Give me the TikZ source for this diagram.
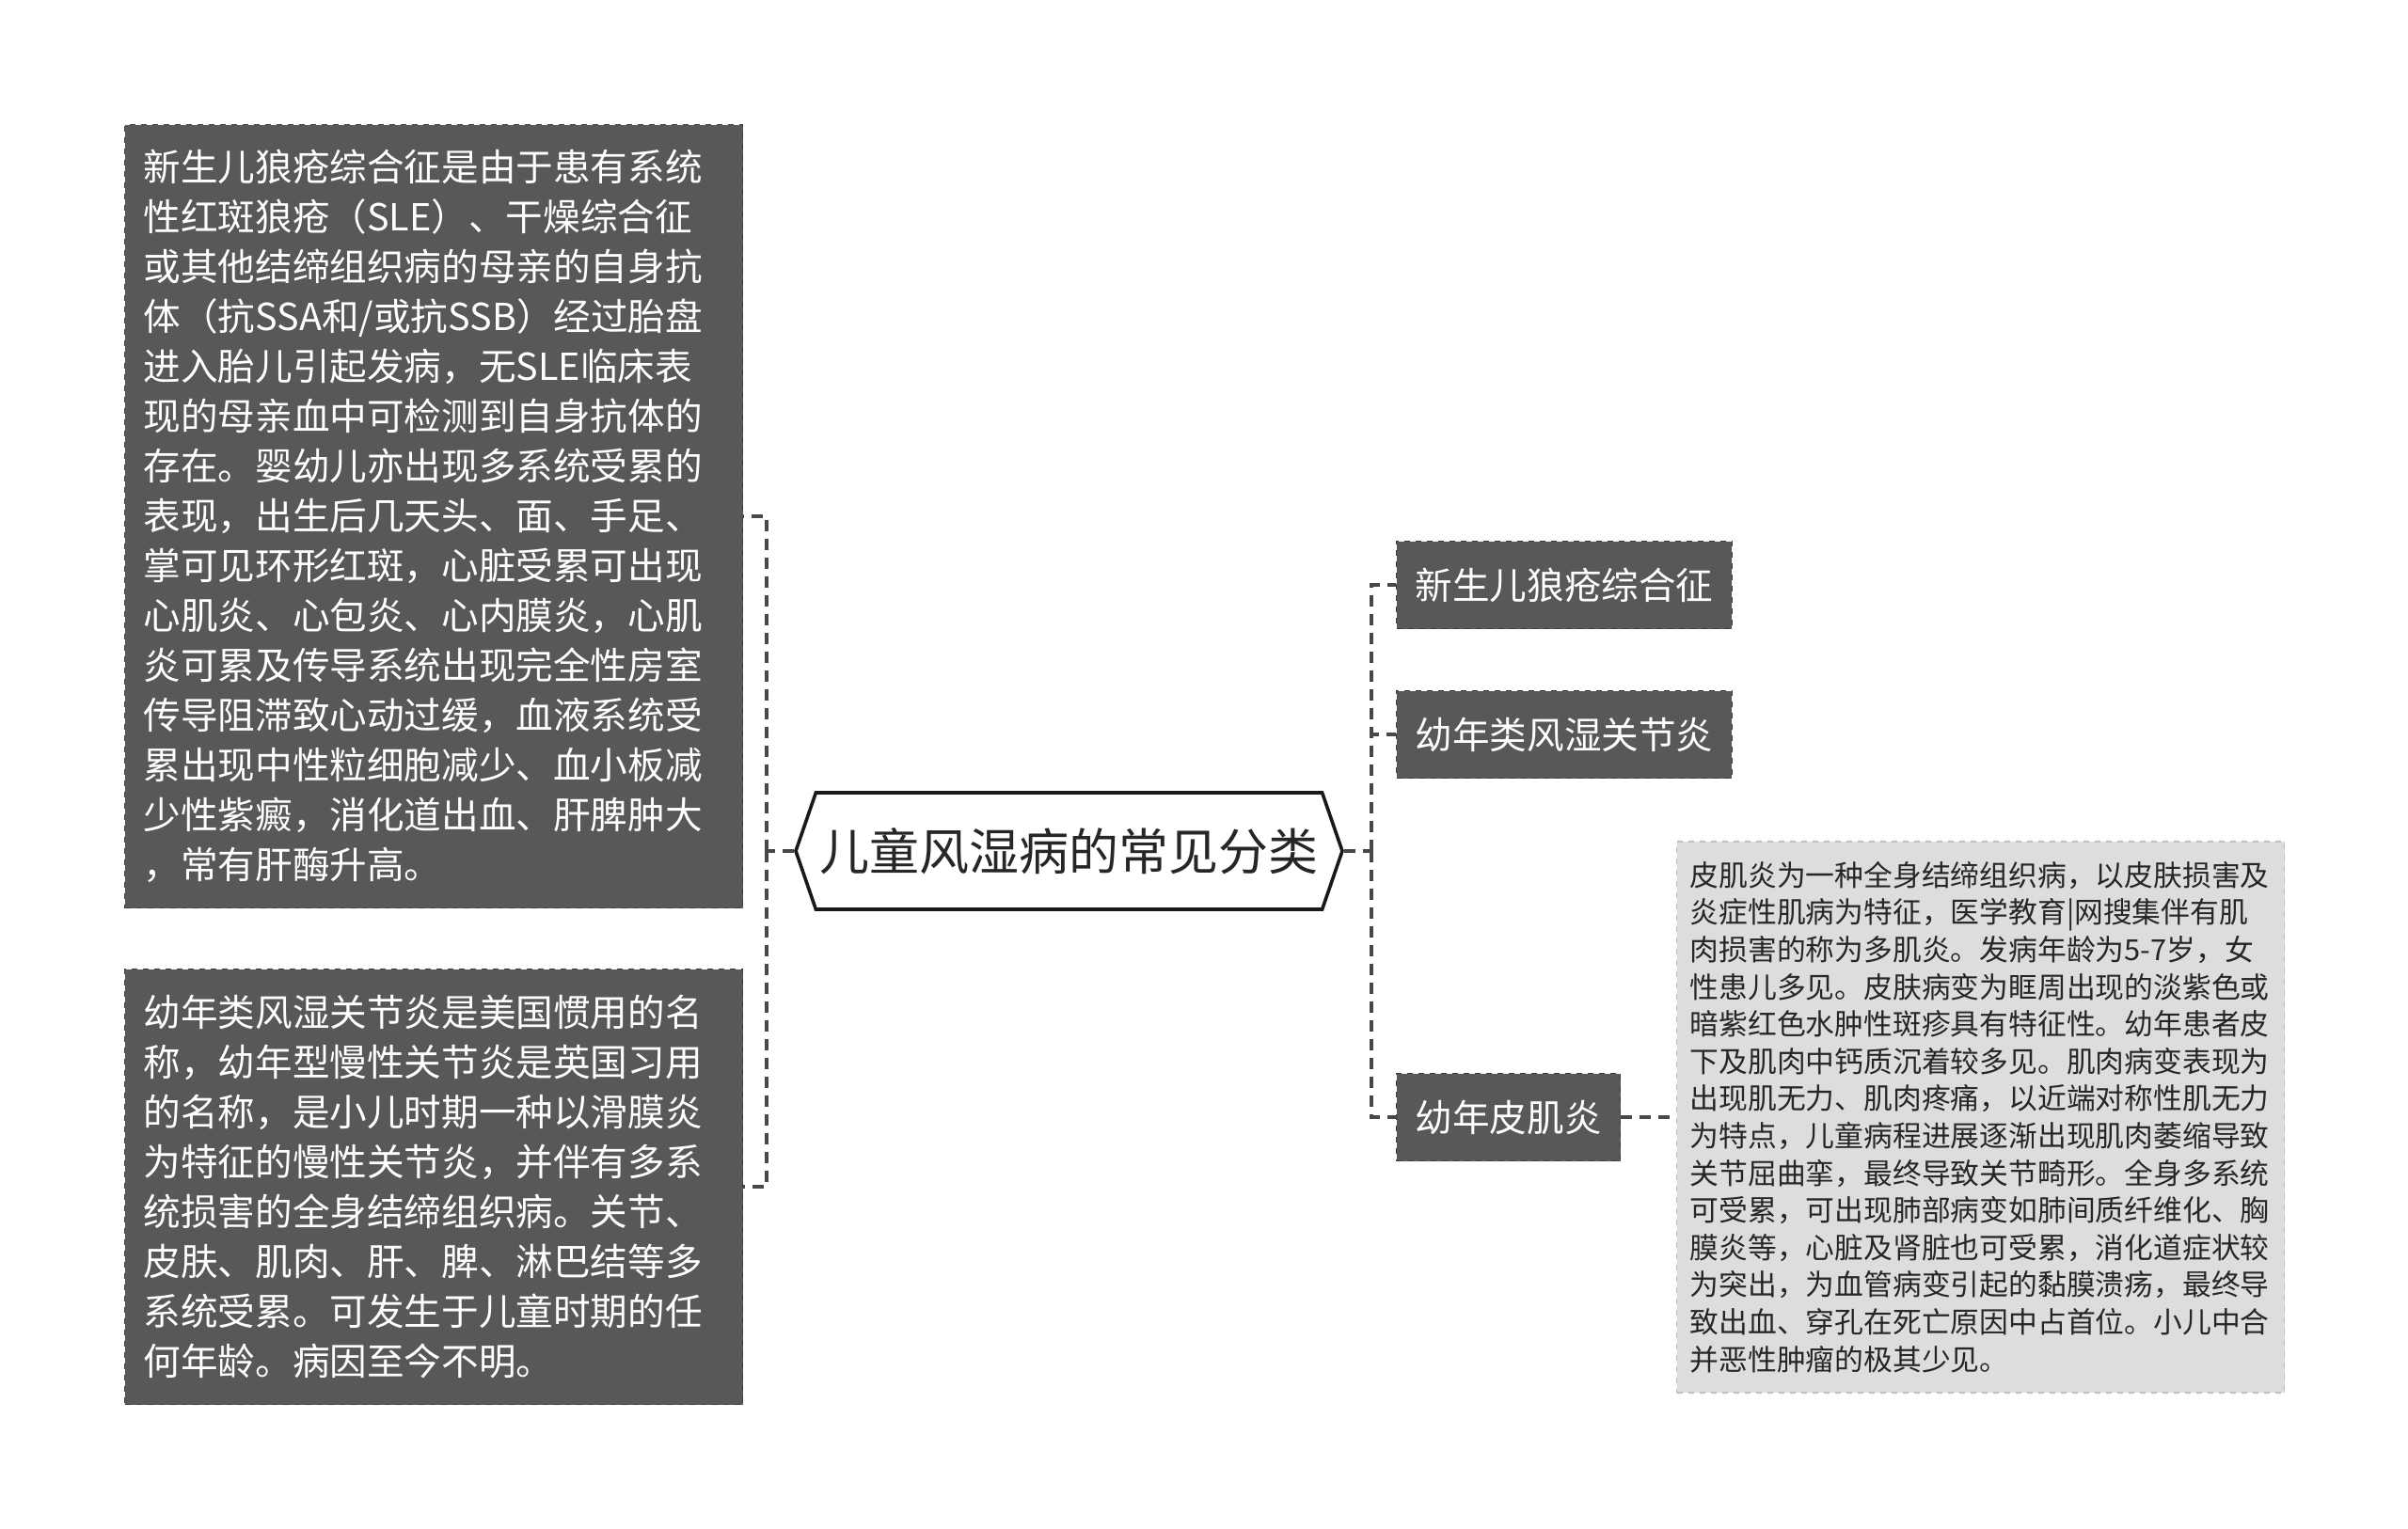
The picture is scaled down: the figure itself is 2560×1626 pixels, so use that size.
\documentclass[tikz,border=0pt]{standalone}
\usepackage{fontspec}
\newfontfamily\cjk{Noto Sans CJK SC}
\usetikzlibrary{positioning, shapes.symbols}
\definecolor{boxdark}{RGB}{88,88,88}
\definecolor{boxedge}{RGB}{60,60,60}
\definecolor{notefill}{RGB}{221,221,221}
\definecolor{noteedge}{RGB}{190,190,190}
\definecolor{linkgray}{RGB}{72,72,72}

\begin{document}
\begin{tikzpicture}[
    x=0.5pt, y=-0.5pt,
    every node/.style={font=\cjk},
    hub/.style={signal, signal to=east and west, signal pointer angle=142,
        draw=black!90, line width=1.8pt, fill=white, text=black!85,
        minimum width=290.5pt, minimum height=62pt, inner sep=0pt,
        font=\cjk\fontsize{26.5}{30}\selectfont},
    leaf/.style={rectangle, draw=boxedge, dashed, line width=0.6pt,
        fill=boxdark, text=white, align=left, text width=308.5pt,
        inner xsep=10pt, inner ysep=0pt,
        font=\cjk\fontsize{19.8}{26.5}\selectfont},
    cat/.style={rectangle, draw=boxedge, dashed, line width=0.6pt,
        fill=boxdark, text=white, inner xsep=10pt, inner ysep=0pt,
        minimum height=46.5pt, font=\cjk\fontsize{19.8}{24}\selectfont},
    note/.style={rectangle, draw=noteedge, dashed, line width=0.6pt,
        fill=notefill, text=black!85, align=left, text width=309pt,
        inner xsep=7pt, inner ysep=0pt, minimum height=293pt,
        font=\cjk\fontsize{15.4}{19.8}\selectfont},
    link/.style={draw=linkgray, line width=2pt, dash pattern=on 6pt off 4pt},
]
\useasboundingbox (0,0) rectangle (2560,1626);

% ====== CENTRE ======
\node[hub] (hub) at (1136.5,905) {儿童风湿病的常见分类};

% ====== LEFT: details ======
\node[leaf, anchor=north west, minimum height=416.5pt] (L-lupus) at (132,132)
    {新生儿狼疮综合征是由于患有系统\\
     性红斑狼疮（SLE）、干燥综合征\\
     或其他结缔组织病的母亲的自身抗\\
     体（抗SSA和/或抗SSB）经过胎盘\\
     进入胎儿引起发病，无SLE临床表\\
     现的母亲血中可检测到自身抗体的\\
     存在。婴幼儿亦出现多系统受累的\\
     表现，出生后几天头、面、手足、\\
     掌可见环形红斑，心脏受累可出现\\
     心肌炎、心包炎、心内膜炎，心肌\\
     炎可累及传导系统出现完全性房室\\
     传导阻滞致心动过缓，血液系统受\\
     累出现中性粒细胞减少、血小板减\\
     少性紫癜，消化道出血、肝脾肿大\\
     ，常有肝酶升高。};
\node[leaf, anchor=north west, minimum height=231.5pt] (L-jra) at (132,1030)
    {幼年类风湿关节炎是美国惯用的名\\
     称，幼年型慢性关节炎是英国习用\\
     的名称，是小儿时期一种以滑膜炎\\
     为特征的慢性关节炎，并伴有多系\\
     统损害的全身结缔组织病。关节、\\
     皮肤、肌肉、肝、脾、淋巴结等多\\
     系统受累。可发生于儿童时期的任\\
     何年龄。病因至今不明。};

% ====== RIGHT: categories ======
\node[cat, anchor=west] (R-lupus) at (1484,622)  {新生儿狼疮综合征};
\node[cat, anchor=west] (R-jra)   at (1484,781)  {幼年类风湿关节炎};
\node[cat, anchor=west] (R-derm)  at (1484,1188) {幼年皮肌炎};

\node[note, anchor=west] (R-note) at (1782,1188)
    {皮肌炎为一种全身结缔组织病，以皮肤损害及\\
     炎症性肌病为特征，医学教育|网搜集伴有肌\\
     肉损害的称为多肌炎。发病年龄为5-7岁，女\\
     性患儿多见。皮肤病变为眶周出现的淡紫色或\\
     暗紫红色水肿性斑疹具有特征性。幼年患者皮\\
     下及肌肉中钙质沉着较多见。肌肉病变表现为\\
     出现肌无力、肌肉疼痛，以近端对称性肌无力\\
     为特点，儿童病程进展逐渐出现肌肉萎缩导致\\
     关节屈曲挛，最终导致关节畸形。全身多系统\\
     可受累，可出现肺部病变如肺间质纤维化、胸\\
     膜炎等，心脏及肾脏也可受累，消化道症状较\\
     为突出，为血管病变引起的黏膜溃疡，最终导\\
     致出血、穿孔在死亡原因中占首位。小儿中合\\
     并恶性肿瘤的极其少见。};

% ====== CONNECTORS ======
\coordinate (L-spine) at (815,905);
\coordinate (R-spine) at (1458,905);

\draw[link] (hub.west) -- (L-spine);
\foreach \n in {L-lupus, L-jra}
    \draw[link] (L-spine) |- (\n.east);

\draw[link] (hub.east) -- (R-spine);
\foreach \n in {R-lupus, R-jra, R-derm}
    \draw[link] (R-spine) |- (\n.west);

\draw[link] (R-derm) -- (R-note);

\end{tikzpicture}
\end{document}
